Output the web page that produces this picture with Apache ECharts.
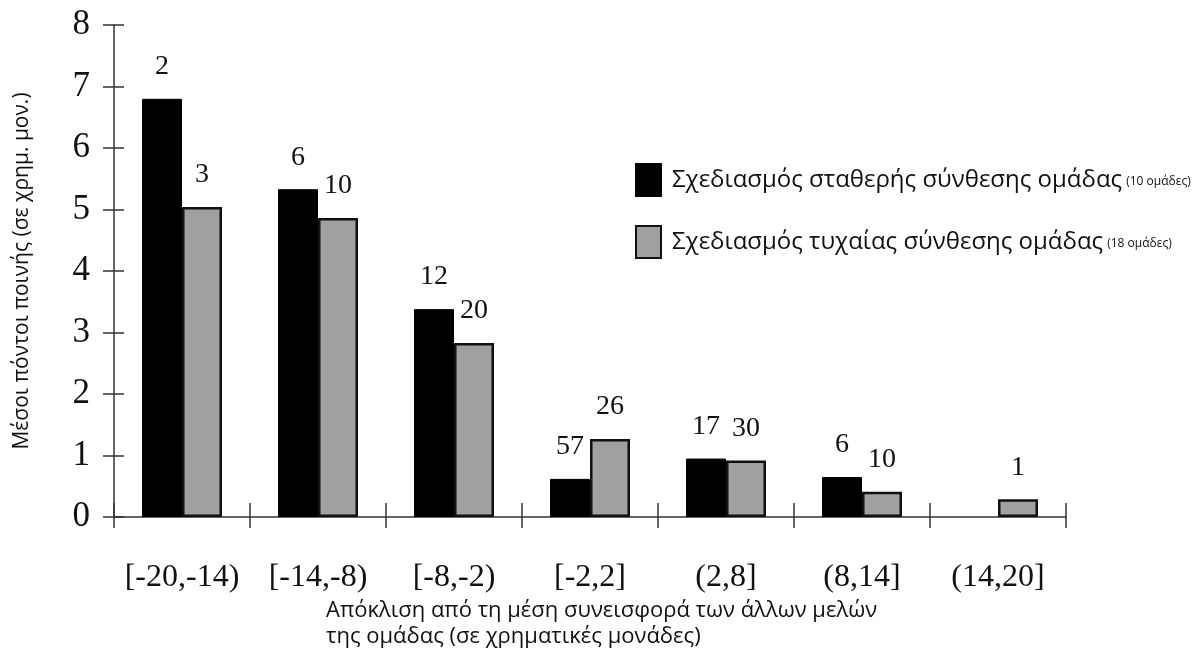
<!DOCTYPE html>
<html>
<head>
<meta charset="utf-8">
<script src="https://cdn.jsdelivr.net/npm/echarts@6/dist/echarts.min.js"></script>
<style>html,body{margin:0;padding:0;background:#fff;}#c{width:1201px;height:659px;}</style>
</head>
<body>
<div id="c"></div>
<script>
const categories = ['[-20,-14)', '[-14,-8)', '[-8,-2)', '[-2,2]', '(2,8]', '(8,14]', '(14,20]'];
const seriesNames = ['Σχεδιασμός σταθερής σύνθεσης ομάδας', 'Σχεδιασμός τυχαίας σύνθεσης ομάδας'];
const seriesSuffix = ['(10 ομάδες)', '(18 ομάδες)'];
const fixedValues = [6.80, 5.33, 3.38, 0.62, 0.95, 0.65, null];
const randomValues = [5.04, 4.86, 2.83, 1.27, 0.92, 0.41, 0.29];
const fixedCounts = [2, 6, 12, 57, 17, 6, null];
const randomCounts = [3, 10, 20, 26, 30, 10, 1];
const yTicks = [0, 1, 2, 3, 4, 5, 6, 7, 8];
const yAxisName = 'Μέσοι πόντοι ποινής (σε χρημ. μον.)';
const xAxisNameLines = ['Απόκλιση από τη μέση συνεισφορά των άλλων μελών', 'της ομάδας (σε χρηματικές μονάδες)'];

const chart = echarts.init(document.getElementById('c'));
const axisColor = '#333';
const serif = '"Liberation Serif", "DejaVu Serif", serif';
const sans = '"Open Sans", "Noto Sans", sans-serif';

function labelFor(counts) {
  return {
    show: true,
    position: 'top',
    distance: 18,
    fontFamily: serif,
    fontSize: 28,
    color: '#111',
    formatter: p => counts[p.dataIndex] == null ? '' : String(counts[p.dataIndex])
  };
}

chart.setOption({
  animation: false,
  backgroundColor: '#fff',
  grid: { left: 114, right: 135, top: 25, bottom: 142, containLabel: false },
  legend: {
    orient: 'vertical',
    left: 630,
    top: 158,
    icon: 'rect',
    itemWidth: 25,
    itemHeight: 32,
    itemGap: 28,
    selectedMode: false,
    data: seriesNames,
    formatter: name => {
      const i = seriesNames.indexOf(name);
      return '{a|' + name + '}{b|' + seriesSuffix[i] + '}';
    },
    textStyle: {
      rich: {
        a: { fontFamily: sans, fontSize: 24, color: '#111', padding: [0, 0, 0, 6] },
        b: { fontFamily: sans, fontSize: 12, color: '#111', padding: [3, 0, 0, 4] }
      }
    }
  },
  xAxis: [
    {
      type: 'category',
      data: categories,
      axisLine: { show: true, lineStyle: { color: axisColor, width: 1.5 } },
      axisTick: { show: true, inside: false, length: 11, lineStyle: { color: axisColor, width: 1.5 } },
      axisLabel: { interval: 0, fontFamily: serif, fontSize: 32, color: '#111', margin: 45 },
      splitLine: { show: false }
    },
    {
      type: 'category',
      data: categories,
      position: 'bottom',
      offset: 0,
      axisLine: { show: false },
      axisTick: { show: true, inside: true, length: 14, lineStyle: { color: axisColor, width: 1.5 } },
      axisLabel: { show: false },
      splitLine: { show: false }
    }
  ],
  yAxis: [
    {
      type: 'value',
      min: yTicks[0],
      max: yTicks[yTicks.length - 1],
      interval: 1,
      name: yAxisName,
      nameLocation: 'middle',
      nameGap: 81,
      nameTextStyle: { fontFamily: sans, fontSize: 21, color: '#111' },
      axisLine: { show: true, lineStyle: { color: axisColor, width: 1.5 } },
      axisTick: { show: true, inside: false, length: 11, lineStyle: { color: axisColor, width: 1.5 } },
      axisLabel: { fontFamily: serif, fontSize: 35, color: '#111', margin: 24 },
      splitLine: { show: false }
    },
    {
      type: 'value',
      min: yTicks[0],
      max: yTicks[yTicks.length - 1],
      interval: 1,
      position: 'left',
      offset: 0,
      axisLine: { show: false },
      axisTick: { show: true, inside: true, length: 10, lineStyle: { color: axisColor, width: 1.5 } },
      axisLabel: { show: false },
      splitLine: { show: false }
    }
  ],
  graphic: [
    {
      type: 'text',
      left: 326,
      top: 598,
      style: {
        text: xAxisNameLines.join('\n'),
        fontFamily: sans,
        fontSize: 22,
        lineHeight: 26,
        fill: '#111'
      }
    }
  ],
  series: [
    {
      name: seriesNames[0],
      type: 'bar',
      data: fixedValues,
      barWidth: 40,
      barGap: '0%',
      itemStyle: { color: '#000', borderColor: '#000', borderWidth: 1 },
      label: labelFor(fixedCounts)
    },
    {
      name: seriesNames[1],
      type: 'bar',
      data: randomValues,
      barWidth: 40,
      barGap: '0%',
      itemStyle: { color: '#a0a0a0', borderColor: '#111', borderWidth: 2.5 },
      label: labelFor(randomCounts)
    }
  ]
});
</script>
</body>
</html>
